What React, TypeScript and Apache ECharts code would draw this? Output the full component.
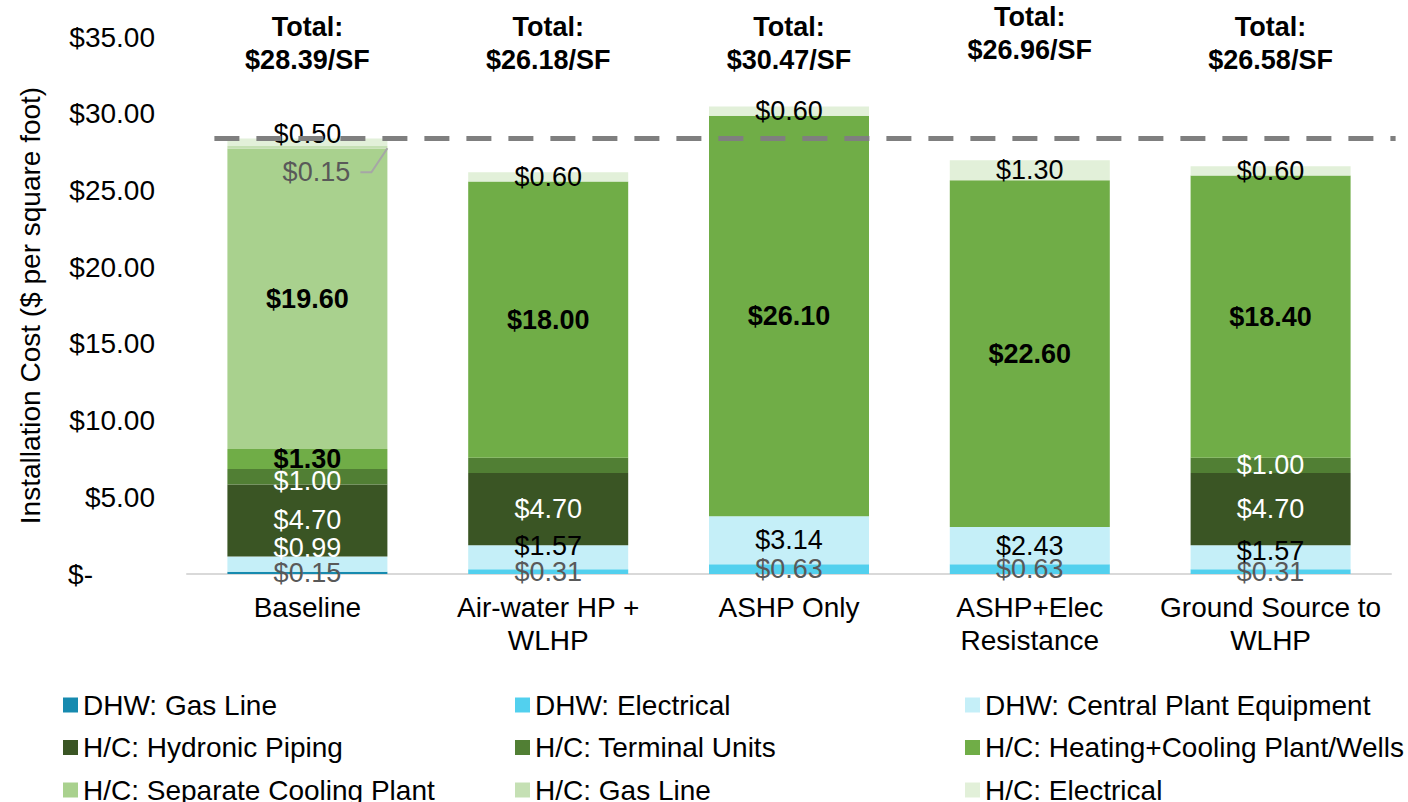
import React, { useEffect, useRef } from "react";
import * as echarts from "echarts";

const categories = [
  "Baseline",
  "Air-water HP +\nWLHP",
  "ASHP Only",
  "ASHP+Elec\nResistance",
  "Ground Source to\nWLHP",
];

const dhwGasLine = [0.15, 0, 0, 0, 0];
const dhwElectrical = [0, 0.31, 0.63, 0.63, 0.31];
const dhwCentralPlant = [0.99, 1.57, 3.14, 2.43, 1.57];
const hcHydronicPiping = [4.7, 4.7, 0, 0, 4.7];
const hcTerminalUnits = [1.0, 1.0, 0, 0, 1.0];
const hcPlantWells = [1.3, 18.0, 26.1, 22.6, 18.4];
const hcSeparateCooling = [19.6, 0, 0, 0, 0];
const hcGasLine = [0.15, 0, 0, 0, 0];
const hcElectrical = [0.5, 0.6, 0.6, 1.3, 0.6];

const yTicks = [0, 5, 10, 15, 20, 25, 30, 35];

const FONT = "'Liberation Sans', Arial, sans-serif";

type SeriesDef = {
  name: string;
  data: number[];
  color: string;
  labelColor: string;
  bold?: boolean;
};

const seriesDefs: SeriesDef[] = [
  { name: "DHW: Gas Line", data: dhwGasLine, color: "#168AAF", labelColor: "#595959" },
  { name: "DHW: Electrical", data: dhwElectrical, color: "#52D0EE", labelColor: "#595959" },
  { name: "DHW: Central Plant Equipment", data: dhwCentralPlant, color: "#C5EFF8", labelColor: "#000000" },
  { name: "H/C: Hydronic Piping", data: hcHydronicPiping, color: "#3A5524", labelColor: "#FFFFFF" },
  { name: "H/C: Terminal Units", data: hcTerminalUnits, color: "#517F34", labelColor: "#FFFFFF" },
  { name: "H/C: Heating+Cooling Plant/Wells", data: hcPlantWells, color: "#70AD47", labelColor: "#000000", bold: true },
  { name: "H/C: Separate Cooling Plant", data: hcSeparateCooling, color: "#A9D18E", labelColor: "#000000", bold: true },
  { name: "H/C: Gas Line", data: hcGasLine, color: "#C5E0B4", labelColor: "#595959" },
  { name: "H/C: Electrical", data: hcElectrical, color: "#E2F0D9", labelColor: "#000000" },
];

// label style tweaks (series index - category index)
const labelTweaks: Record<string, any> = {
  "2-0": { color: "#FFFFFF", offset: [0, -16] },
  "2-1": { offset: [0, -11] },
  "2-4": { offset: [0, -6] },
  "4-0": { offset: [0, 4] },
  "4-1": { show: false },
  "8-0": { offset: [0, -8] },
};

const totalTopOffsets = [0, 0, 0, -10, 0];
const GAS_LABEL_DX = 9;
const GAS_LABEL_DY = 25;

export default function App() {
  const ref = useRef<HTMLDivElement>(null);

  useEffect(() => {
    document.body.style.margin = "0";
    if (!ref.current) return;
    const chart = echarts.init(ref.current, null, { renderer: "svg" });

    const totals = categories.map((_, i) =>
      seriesDefs.reduce((s, d) => s + d.data[i], 0)
    );

    const series: any[] = seriesDefs.map((d, si) => {
      const s: any = {
        name: d.name,
        type: "bar",
        stack: "total",
        barWidth: 160,
        itemStyle: { color: d.color },
        label: {
          show: true,
          position: "inside",
          fontFamily: FONT,
          fontSize: 27,
          color: d.labelColor,
          fontWeight: d.bold ? "bold" : "normal",
          formatter: (p: any) => "$" + Number(p.value).toFixed(2),
        },
        data: d.data.map((v, ci) => {
          const tw = labelTweaks[`${si}-${ci}`] || {};
          return { value: v, label: { show: v > 0, ...tw } };
        }),
      };
      if (si === 7) {
        s.labelLayout = { dx: GAS_LABEL_DX, dy: GAS_LABEL_DY };
      }
      return s;
    });

    const legendBase = {
      orient: "vertical",
      top: 691,
      height: 160,
      padding: 0,
      itemWidth: 15,
      itemHeight: 15,
      itemGap: 14.5,
      icon: "rect",
      selectedMode: false,
      textStyle: { fontFamily: FONT, fontSize: 28, color: "#000", lineHeight: 27 },
    };

    chart.setOption({
      animation: false,
      grid: { left: 187, right: 17, top: 37, bottom: 228, containLabel: false },
      legend: [
        { ...legendBase, left: 63, data: [seriesDefs[0].name, seriesDefs[3].name, seriesDefs[6].name] },
        { ...legendBase, left: 515, data: [seriesDefs[1].name, seriesDefs[4].name, seriesDefs[7].name] },
        { ...legendBase, left: 965, data: [seriesDefs[2].name, seriesDefs[5].name, seriesDefs[8].name] },
      ],
      xAxis: {
        type: "category",
        data: categories,
        axisLine: { show: true, lineStyle: { color: "#D9D9D9", width: 2 } },
        axisTick: { show: false },
        axisLabel: {
          fontFamily: FONT,
          fontSize: 28,
          lineHeight: 33,
          color: "#000",
          margin: 17,
          interval: 0,
        },
      },
      yAxis: {
        type: "value",
        min: yTicks[0],
        max: yTicks[yTicks.length - 1],
        interval: 5,
        splitLine: { show: false },
        axisLine: { show: false },
        axisTick: { show: false },
        name: "Installation Cost ($ per square foot)",
        nameLocation: "middle",
        nameRotate: 90,
        nameGap: 143,
        nameTextStyle: { fontFamily: FONT, fontSize: 28, color: "#000" },
        axisLabel: {
          fontFamily: FONT,
          fontSize: 28,
          color: "#000",
          margin: 32,
          formatter: (v: number) => (v === 0 ? "{z|$-}" : "$" + v.toFixed(2)),
          rich: { z: { fontFamily: FONT, fontSize: 28, color: "#000", padding: [0, 62, 0, 0] } },
        },
      },
      series,
    });

    const elements: any[] = categories.map((c, i) => {
      const x = chart.convertToPixel({ xAxisIndex: 0 }, c) as number;
      return {
        type: "text",
        x,
        y: 43 + totalTopOffsets[i],
        style: {
          text: "Total:\n$" + totals[i].toFixed(2) + "/SF",
          fontFamily: FONT,
          fontSize: 27,
          fontWeight: "bold",
          lineHeight: 33,
          fill: "#000",
          align: "center",
          verticalAlign: "middle",
        },
      };
    });

    // dashed reference line at the Baseline total
    const x0 = chart.convertToPixel({ xAxisIndex: 0 }, categories[0]) as number;
    const xN = chart.convertToPixel({ xAxisIndex: 0 }, categories[categories.length - 1]) as number;
    const yRef = chart.convertToPixel({ yAxisIndex: 0 }, totals[0]) as number;
    elements.push({
      type: "line",
      z: 150,
      silent: true,
      shape: { x1: x0 - 93, y1: yRef, x2: xN + 125, y2: yRef },
      style: { stroke: "#7F7F7F", lineWidth: 5, lineDash: [25, 17] },
    });

    // leader line for the small H/C Gas Line label on Baseline
    const gi = hcGasLine.findIndex((v) => v > 0);
    if (gi >= 0) {
      const below = seriesDefs.slice(0, 7).reduce((s, d) => s + d.data[gi], 0);
      const mid = below + hcGasLine[gi] / 2;
      const cx = chart.convertToPixel({ xAxisIndex: 0 }, categories[gi]) as number;
      const ySeg = chart.convertToPixel({ yAxisIndex: 0 }, mid) as number;
      const yL = ySeg + GAS_LABEL_DY;
      elements.push({
        type: "polyline",
        z: 200,
        silent: true,
        shape: {
          points: [
            [cx + GAS_LABEL_DX + 44, yL],
            [cx + 64, yL],
            [cx + 80, ySeg + 1],
          ],
        },
        style: { stroke: "#A6A6A6", lineWidth: 2 },
      });
    }

    chart.setOption({ graphic: { elements } });

    return () => chart.dispose();
  }, []);

  return <div ref={ref} style={{ width: 1408, height: 802 }} />;
}
